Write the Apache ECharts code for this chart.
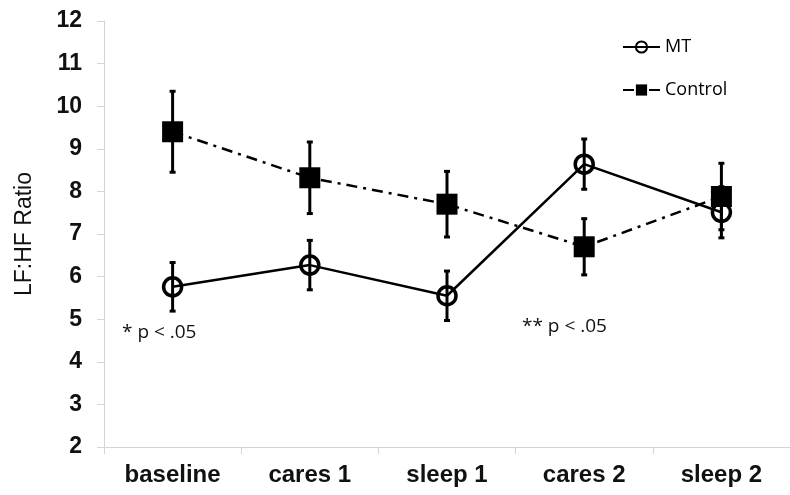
<!DOCTYPE html>
<html>
<head>
<meta charset="utf-8">
<script src="https://cdn.jsdelivr.net/npm/echarts@6/dist/echarts.min.js"></script>
<style>
html,body{margin:0;padding:0;background:#fff;}
#chart{width:790px;height:495px;}
</style>
</head>
<body>
<div id="chart"></div>
<script>
const categories = ['baseline', 'cares 1', 'sleep 1', 'cares 2', 'sleep 2'];
const mtMean = [5.76, 6.27, 5.55, 8.64, 7.51];
const mtErr = [0.57, 0.58, 0.58, 0.59, 0.60];
const ctrlMean = [9.40, 8.32, 7.70, 6.70, 7.88];
const ctrlErr = [0.95, 0.84, 0.77, 0.66, 0.78];
const yTicks = [2, 3, 4, 5, 6, 7, 8, 9, 10, 11, 12];
const notes = ['* p < .05', '** p < .05'];

function errData(mean, err) {
  return mean.map((m, i) => [i, m - err[i], m + err[i]]);
}

function renderErr(params, api) {
  const lo = api.coord([api.value(0), api.value(1)]);
  const hi = api.coord([api.value(0), api.value(2)]);
  const cap = 3;
  const st = { stroke: '#000', lineWidth: 3 };
  return {
    type: 'group',
    children: [
      { type: 'line', shape: { x1: lo[0], y1: lo[1], x2: hi[0], y2: hi[1] }, style: st },
      { type: 'line', shape: { x1: lo[0] - cap, y1: lo[1], x2: lo[0] + cap, y2: lo[1] }, style: st },
      { type: 'line', shape: { x1: hi[0] - cap, y1: hi[1], x2: hi[0] + cap, y2: hi[1] }, style: st }
    ]
  };
}

const chart = echarts.init(document.getElementById('chart'), null, { renderer: 'canvas' });
chart.setOption({
  animation: false,
  backgroundColor: '#fff',
  grid: { left: 104, top: 21, width: 695, bottom: 48, containLabel: false },
  legend: {
    data: ['MT', 'Control'],
    orient: 'vertical',
    left: 617,
    top: 33,
    itemWidth: 37,
    itemHeight: 14,
    itemGap: 25,
    textStyle: { fontFamily: 'Open Sans', fontSize: 18, color: '#000' }
  },
  xAxis: {
    type: 'category',
    data: categories,
    boundaryGap: true,
    axisLine: { lineStyle: { color: '#d4d4d4', width: 1 } },
    axisTick: { show: true, length: 7, lineStyle: { color: '#d4d4d4' } },
    axisLabel: { margin: 16, fontFamily: 'Liberation Sans', fontWeight: 'bold', fontSize: 24, color: '#111' },
    splitLine: { show: false }
  },
  yAxis: {
    type: 'value',
    min: yTicks[0],
    max: yTicks[yTicks.length - 1],
    interval: 1,
    name: 'LF:HF Ratio',
    nameLocation: 'middle',
    nameRotate: 90,
    nameGap: 68,
    nameTextStyle: { fontFamily: 'Liberation Sans', fontSize: 23, color: '#111' },
    axisLine: { show: true, lineStyle: { color: '#d4d4d4', width: 1 } },
    axisTick: { show: true, length: 7, lineStyle: { color: '#d4d4d4' } },
    axisLabel: { margin: 22, fontFamily: 'Liberation Sans', fontWeight: 'bold', fontSize: 23, color: '#111' },
    splitLine: { show: false }
  },
  graphic: [
    { type: 'text', left: 122, top: 323, style: { text: notes[0], fontFamily: 'Open Sans', fontSize: 19, fill: '#111' } },
    { type: 'text', left: 522, top: 317, style: { text: notes[1], fontFamily: 'Open Sans', fontSize: 19, fill: '#111' } }
  ],
  series: [
    {
      type: 'custom',
      name: 'ctrlErr',
      renderItem: renderErr,
      data: errData(ctrlMean, ctrlErr),
      z: 1,
      silent: true
    },
    {
      type: 'custom',
      name: 'mtErr',
      renderItem: renderErr,
      data: errData(mtMean, mtErr),
      z: 1,
      silent: true
    },
    {
      type: 'line',
      name: 'Control',
      data: ctrlMean,
      symbol: 'rect',
      symbolSize: 21,
      lineStyle: { color: '#000', width: 2.5, type: [11, 6, 3, 6] },
      itemStyle: { color: '#000', borderColor: '#000', borderWidth: 0 },
      z: 3
    },
    {
      type: 'line',
      name: 'MT',
      data: mtMean,
      symbol: 'circle',
      symbolSize: 18,
      lineStyle: { color: '#000', width: 2.5 },
      itemStyle: { color: 'rgba(255,255,255,0)', borderColor: '#000', borderWidth: 3.5 },
      z: 4
    }
  ]
});
</script>
</body>
</html>
